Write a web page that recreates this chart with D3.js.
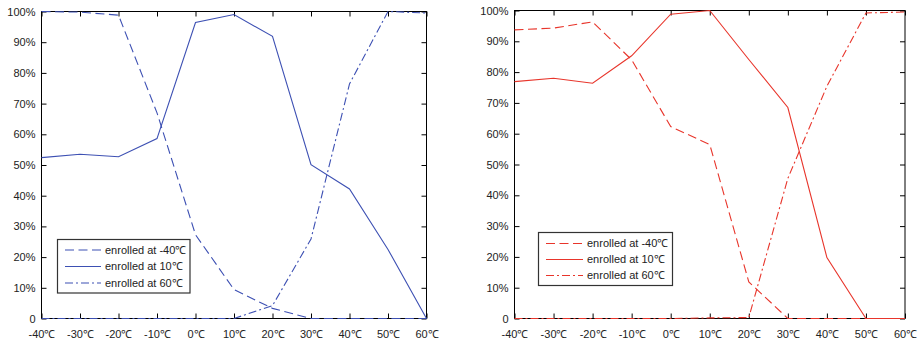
<!DOCTYPE html>
<html>
<head>
<meta charset="utf-8">
<script src="https://cdn.jsdelivr.net/npm/d3@7"></script>
<style>
  body { margin: 0; background: #fff; }
  svg { display: block; font-family: 'Liberation Sans', Arial, sans-serif; }
</style>
</head>
<body>
<script>
// Data
const temps = [-40, -30, -20, -10, 0, 10, 20, 30, 40, 50, 60]
const xTickLabels = temps.map(t => `${t}℃`)
const yTicks = [0, 10, 20, 30, 40, 50, 60, 70, 80, 90, 100]
const yTickLabels = ['0', '10%', '20%', '30%', '40%', '50%', '60%', '70%', '80%', '90%', '100%']
const legendLabels = ['enrolled at -40℃', 'enrolled at 10℃', 'enrolled at 60℃']

const leftMinus40 = [100, 99.8, 98.8, 67, 27.3, 9.4, 3.3, 0, 0, 0, 0]
const leftAt10 = [52.4, 53.5, 52.7, 58.6, 96.4, 99.0, 91.9, 50.1, 42.2, 22.5, 0]
const leftAt60 = [0, 0, 0, 0, 0, 0, 4.2, 25.9, 76.4, 100, 99.5]

const rightMinus40 = [93.7, 94.3, 96.3, 84, 62.3, 56.5, 11.9, 0, 0, 0, 0]
const rightAt10 = [76.9, 78, 76.4, 85.3, 98.8, 100, 84.1, 68.5, 19.8, 0, 0]
const rightAt60 = [0, 0, 0, 0, 0, 0.2, 0.3, 45.5, 75.4, 99.2, 99.5]

const WIDTH = 921
const HEIGHT = 342
const dashStyles = ['9,4.5', null, '8,3,2,3']

const panels = [
  {
    series: [leftMinus40, leftAt10, leftAt60],
    color: '#3d50b3',
    box: { left: 41.5, right: 426.5, top: 11.5, bottom: 318.5 },
    legend: { x: 57.5, y: 239.5, w: 132.5, h: 53.5, lineX0: 65, lineX1: 101, textX: 105, rowY: [250, 266.5, 283] }
  },
  {
    series: [rightMinus40, rightAt10, rightAt60],
    color: '#e8352b',
    box: { left: 514.5, right: 905, top: 10.5, bottom: 318.5 },
    legend: { x: 538.5, y: 232.5, w: 134, h: 53, lineX0: 546, lineX1: 583, textX: 587, rowY: [243.5, 259.5, 275.5] }
  }
]

const svg = d3.select('body').append('svg')
  .attr('width', WIDTH)
  .attr('height', HEIGHT)

const drawPanel = (panel) => {
  const { box, legend, color } = panel
  const g = svg.append('g')

  const xScale = d3.scaleLinear()
    .domain([temps[0], temps[temps.length - 1]])
    .range([box.left, box.right])

  const yScale = d3.scaleLinear()
    .domain([0, 100])
    .range([box.bottom, box.top])

  // Axes (ticks inward, on all four sides)
  const tickLen = 5
  g.append('g')
    .attr('transform', `translate(0, ${box.bottom})`)
    .call(d3.axisBottom(xScale).tickValues(temps).tickSize(-tickLen).tickPadding(12)
      .tickFormat((d, i) => xTickLabels[i]))
  g.append('g')
    .attr('transform', `translate(0, ${box.top})`)
    .call(d3.axisTop(xScale).tickValues(temps).tickSize(-tickLen).tickFormat(''))
  g.append('g')
    .attr('transform', `translate(${box.left}, 0)`)
    .call(d3.axisLeft(yScale).tickValues(yTicks).tickSize(-tickLen).tickPadding(6)
      .tickFormat((d, i) => yTickLabels[i]))
  g.append('g')
    .attr('transform', `translate(${box.right}, 0)`)
    .call(d3.axisRight(yScale).tickValues(yTicks).tickSize(-tickLen).tickFormat(''))

  g.selectAll('.domain').remove()
  g.selectAll('.tick line').attr('stroke', '#000').attr('stroke-width', 1)
  g.selectAll('.tick text')
    .attr('fill', '#222')
    .style('font-size', '11px')

  // Frame
  g.append('rect')
    .attr('x', box.left)
    .attr('y', box.top)
    .attr('width', box.right - box.left)
    .attr('height', box.bottom - box.top)
    .attr('fill', 'none')
    .attr('stroke', '#000')
    .attr('stroke-width', 1)

  // Lines
  const line = d3.line()
    .x((d, i) => xScale(temps[i]))
    .y(d => yScale(d))

  panel.series.forEach((values, i) => {
    g.append('path')
      .datum(values)
      .attr('d', line)
      .attr('fill', 'none')
      .attr('stroke', color)
      .attr('stroke-width', 1.1)
      .attr('stroke-dasharray', dashStyles[i])
  })

  // Legend
  const lg = g.append('g')
  lg.append('rect')
    .attr('x', legend.x)
    .attr('y', legend.y)
    .attr('width', legend.w)
    .attr('height', legend.h)
    .attr('fill', '#fff')
    .attr('stroke', '#333')
    .attr('stroke-width', 1.2)

  legendLabels.forEach((label, i) => {
    const y = legend.rowY[i]
    lg.append('line')
      .attr('x1', legend.lineX0)
      .attr('x2', legend.lineX1)
      .attr('y1', y)
      .attr('y2', y)
      .attr('stroke', color)
      .attr('stroke-width', 1.1)
      .attr('stroke-dasharray', dashStyles[i])
    lg.append('text')
      .attr('x', legend.textX)
      .attr('y', y)
      .attr('dy', '0.35em')
      .attr('fill', '#222')
      .style('font-size', '11px')
      .text(label)
  })
}

panels.forEach(drawPanel)
</script>
</body>
</html>
